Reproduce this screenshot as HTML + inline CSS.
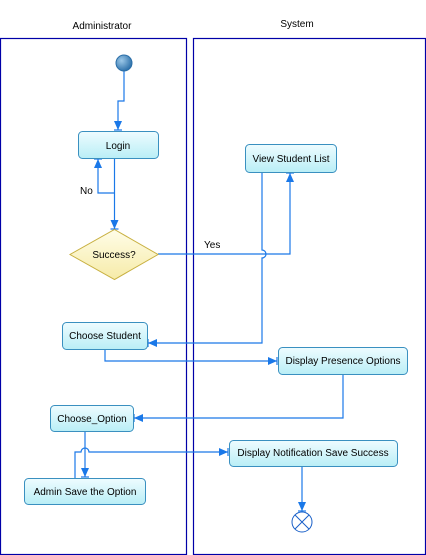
<!DOCTYPE html>
<html><head><style>body{margin:0;background:#fff}svg{display:block}text{font-family:"Liberation Sans",sans-serif;font-size:10px;fill:#000}</style></head>
<body>
<svg width="426" height="555" viewBox="0 0 426 555" xmlns="http://www.w3.org/2000/svg">
<defs>
<linearGradient id="g" x1="0" y1="0" x2="0" y2="1"><stop offset="0" stop-color="#eefcff"/><stop offset="1" stop-color="#b9eef6"/></linearGradient>
<linearGradient id="d" x1="0" y1="0" x2="0" y2="1"><stop offset="0" stop-color="#fffde8"/><stop offset="1" stop-color="#f6eba8"/></linearGradient>
<radialGradient id="c" cx="0.35" cy="0.35" r="0.7"><stop offset="0" stop-color="#9cc8e8"/><stop offset="1" stop-color="#2a6ea8"/></radialGradient>
<marker id="a" markerWidth="10" markerHeight="8" refX="9" refY="4" orient="auto" markerUnits="userSpaceOnUse"><path d="M0,0 L9,4 L0,8 Z" fill="#1a78e8"/><path d="M9,0 L9,8" stroke="#1a78e8" stroke-width="1.2"/></marker>
</defs>
<rect x="0.5" y="38.5" width="186" height="516" fill="none" stroke="#0000a8" stroke-width="1.2"/>
<rect x="193.5" y="38.5" width="232" height="516" fill="none" stroke="#0000a8" stroke-width="1.2"/>
<text x="102" y="29" text-anchor="middle">Administrator</text>
<text x="297" y="27" text-anchor="middle">System</text>
<g fill="none" stroke="#1a78e8" stroke-width="1.2">
<path d="M124,71 V101 H118 V130" marker-end="url(#a)"/>
<path d="M114.5,158 V229" marker-end="url(#a)"/>
<path d="M114.5,193 H98 V159" marker-end="url(#a)"/>
<path d="M158,254 H290 V173" marker-end="url(#a)"/>
<path d="M262,172 V250 A4,4 0 0 1 262,258 V343 H148" marker-end="url(#a)"/>
<path d="M105,349 V361 H277" marker-end="url(#a)"/>
<path d="M343,374 V418 H134" marker-end="url(#a)"/>
<path d="M85,432 V477" marker-end="url(#a)"/>
<path d="M75,478 V452 H81 A4,4 0 0 1 89,452 H228" marker-end="url(#a)"/>
<path d="M302,466 V511" marker-end="url(#a)"/>
</g>
<circle cx="124" cy="63" r="8" fill="url(#c)" stroke="#2a6ea8"/>
<g stroke="#3a90c0" stroke-width="1" fill="url(#g)">
<rect x="78.5" y="131.5" width="80" height="27" rx="4"/>
<rect x="245.5" y="144.5" width="91" height="28" rx="4"/>
<rect x="62.5" y="322.5" width="85" height="27" rx="4"/>
<rect x="278.5" y="347.5" width="129" height="27" rx="4"/>
<rect x="50.5" y="405.5" width="83" height="26" rx="4"/>
<rect x="229.5" y="440.5" width="168" height="26" rx="4"/>
<rect x="24.5" y="478.5" width="121" height="26" rx="4"/>
</g>
<path d="M114.5,229.5 L158,254.5 L114.5,279.5 L70,254.5 Z" fill="url(#d)" stroke="#c8b040"/>
<circle cx="302" cy="522" r="10" fill="#fff" stroke="#1a60c8"/>
<path d="M295,515 L309,529 M309,515 L295,529" stroke="#1a60c8"/>
<text x="118" y="149" text-anchor="middle">Login</text>
<text x="291" y="162" text-anchor="middle">View Student List</text>
<text x="114" y="258" text-anchor="middle">Success?</text>
<text x="80" y="194">No</text>
<text x="204" y="248">Yes</text>
<text x="105" y="339" text-anchor="middle">Choose Student</text>
<text x="343" y="364" text-anchor="middle">Display Presence Options</text>
<text x="92" y="422" text-anchor="middle">Choose_Option</text>
<text x="313" y="456" text-anchor="middle">Display Notification Save Success</text>
<text x="85" y="495" text-anchor="middle">Admin Save the Option</text>
</svg>
</body></html>
